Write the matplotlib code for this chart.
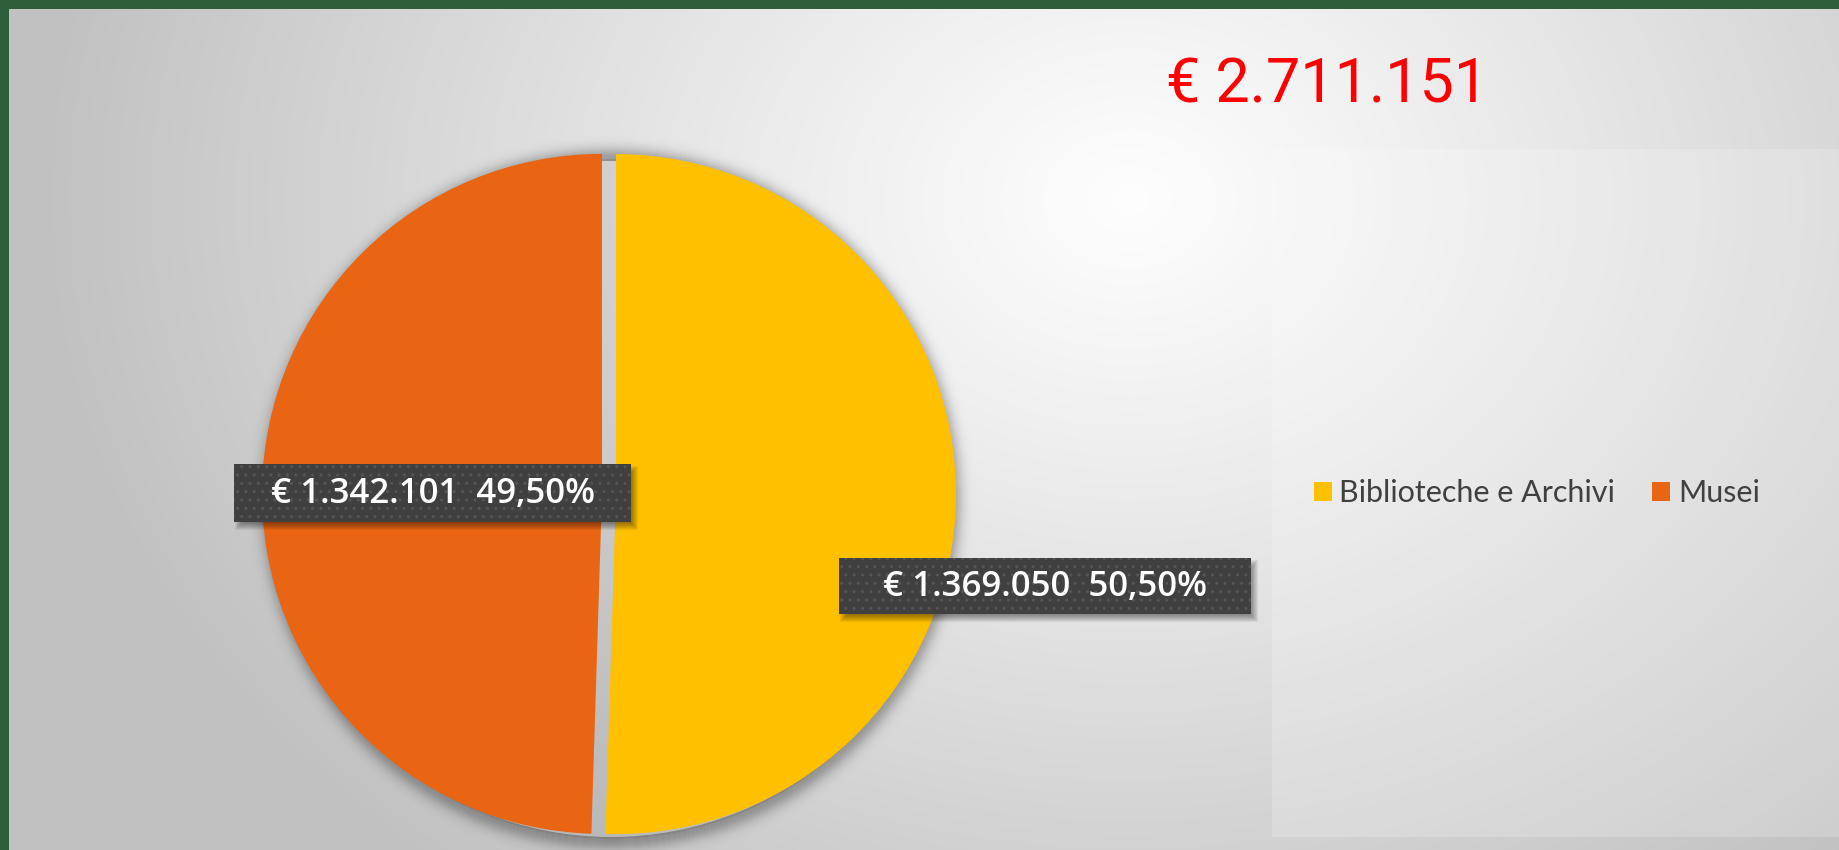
import numpy as np
import matplotlib.pyplot as plt
from matplotlib.patches import Rectangle, Circle, Annulus

# data
categories = ['Biblioteche e Archivi', 'Musei']
values = [1369050, 1342101]
colors = ['#FFC000', '#E96413']

W, H = 1839, 850


def euro(v):
    return '€ ' + f'{v:,}'.replace(',', '.')


total = sum(values)
pcts = [v / total * 100 for v in values]

fig = plt.figure(figsize=(W / 100, H / 100), dpi=100)
fig.patch.set_facecolor('#2e5e3a')
ax = fig.add_axes([0, 0, 1, 1])

# light grey background with a soft radial highlight
yy, xx = np.mgrid[0:H - 9, 0:W - 9]
d = np.sqrt(((xx - 1120) / 1.0) ** 2 + ((yy - 190) / 0.8) ** 2)
g = 0.995 - 0.235 * np.clip(d / 1080, 0, 1) ** 1.1
bg = np.dstack([g, g, g])
ax.imshow(bg, extent=[9, W, 0, H - 9], origin='upper', zorder=0, interpolation='bilinear')

# lighter panel behind the legend
ax.add_patch(Rectangle((1272, 13), W - 1272, 688, facecolor='white', alpha=0.2,
                       edgecolor='none', zorder=1))

cx, cy, r = 609, 356, 340

# soft shadow around the pie
sx, sy = cx + 2, cy - 5
ax.add_patch(Circle((sx, sy), r, facecolor='black', alpha=0.08, edgecolor='none', zorder=2))
for k in range(-2, 30):
    a = 0.3 * np.exp(-((max(k, 0) / 11.0) ** 2))
    ax.add_patch(Annulus((sx, sy), r + k + 1, 1, facecolor='black', alpha=a,
                         edgecolor='none', zorder=2))

wedges, _ = ax.pie(values, colors=colors, startangle=90, counterclock=False,
                   explode=[7, 7], center=(cx, cy), radius=r, frame=True,
                   wedgeprops=dict(linewidth=0, zorder=3))

# data labels
label_pos = [(1045, 264), (433, 357)]
box_size = [(412, 56), (397, 58)]
for v, p, (lx, ly), (bw, bh) in zip(values, pcts, label_pos, box_size):
    txt = f'{euro(v)}  ' + f'{p:.2f}%'.replace('.', ',')
    x0, y0 = lx - bw / 2, ly - bh / 2
    for k in range(8):
        ax.add_patch(Rectangle((x0 + 8 - k, y0 - 1 - k), bw + 2 * k - 8, bh + 2 * k - 8,
                               facecolor='black', alpha=0.06, edgecolor='none', zorder=4))
    ax.add_patch(Rectangle((x0, y0), bw, bh, facecolor='#404040', edgecolor='#555555',
                           hatch='..', linewidth=0, zorder=5))
    ax.text(lx, ly - 1, txt, ha='center', va='center', color='white', fontsize=25,
            family='Open Sans', weight='semibold', zorder=6)

# total
ax.text(1327, 850 - 85, euro(total), ha='center', va='center', color='#FF0000',
        fontsize=44, family='Roboto', zorder=6)

leg = ax.legend(wedges, categories, ncol=2, frameon=False, loc='center left',
                bbox_to_anchor=(1286 / W, 357 / H),
                handlelength=0.6, handleheight=0.6, handletextpad=0.25,
                columnspacing=1.2, prop={'family': 'Lato', 'size': 22})
for t in leg.get_texts():
    t.set_color('#404040')

ax.set_xlim(0, W)
ax.set_ylim(0, H)
ax.set_aspect('equal')
ax.axis('off')

fig.savefig('out.png', dpi=100, facecolor=fig.get_facecolor())
